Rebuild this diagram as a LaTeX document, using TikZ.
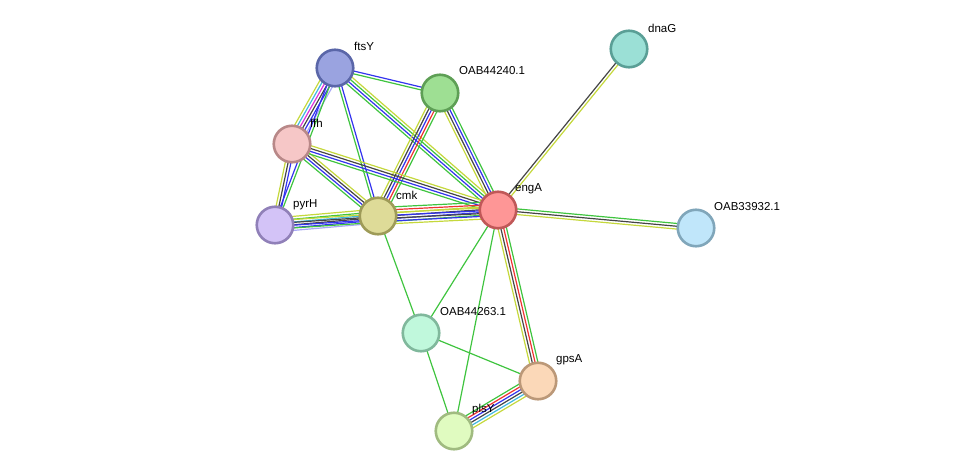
\documentclass[tikz,border=0pt]{standalone}
\usepackage{fontspec}
\setmainfont{Liberation Sans}
\usetikzlibrary{calc}
\pgfdeclarelayer{bg}
\pgfsetlayers{bg,main}
\definecolor{eg}{HTML}{3FC43F}
\definecolor{eb}{HTML}{3333EE}
\definecolor{ek}{HTML}{454545}
\definecolor{er}{HTML}{EE3333}
\definecolor{ey}{HTML}{C5D83C}
\definecolor{ec}{HTML}{40B8E0}
\definecolor{em}{HTML}{DD33DD}
\definecolor{el}{HTML}{A8A8F5}
\definecolor{fftsY}{HTML}{9AA3E0}\definecolor{dftsY}{HTML}{5A66A8}
\definecolor{foab40}{HTML}{9EDF93}\definecolor{doab40}{HTML}{5E9F55}
\definecolor{fffh}{HTML}{F6C7C7}\definecolor{dffh}{HTML}{B88888}
\definecolor{fpyrH}{HTML}{D3C3F7}\definecolor{dpyrH}{HTML}{9080B8}
\definecolor{fcmk}{HTML}{DEDB98}\definecolor{dcmk}{HTML}{9E9B58}
\definecolor{fengA}{HTML}{FE9696}\definecolor{dengA}{HTML}{C05858}
\definecolor{fdnaG}{HTML}{9BE0D6}\definecolor{ddnaG}{HTML}{5A9F96}
\definecolor{foab32}{HTML}{C0E6FA}\definecolor{doab32}{HTML}{80A6BA}
\definecolor{foab63}{HTML}{C0F8DC}\definecolor{doab63}{HTML}{80B89C}
\definecolor{fgpsA}{HTML}{FBD8B8}\definecolor{dgpsA}{HTML}{BB9878}
\definecolor{fplsY}{HTML}{E0FBC0}\definecolor{dplsY}{HTML}{A0BB80}
\newcommand\sedge[3]{%
  \foreach \c [count=\n] in {#3} {\xdef\ncol{\n}}%
  \foreach \c [count=\i] in {#3} {%
    \pgfmathsetmacro\off{(\i-(\ncol+1)/2)*2.8}%
    \draw[\c, edgeline] ($(#1.center)!\off pt!90:(#2.center)$) -- ($(#2.center)!\off pt!-90:(#1.center)$);
  }}
\tikzset{
  prot/.style={circle, minimum size=36.5pt, inner sep=0pt, line width=2.6pt, fill=f#1, draw=d#1},
  lb/.style={anchor=west, font=\fontsize{11.5}{13}\selectfont, inner sep=1pt, text=black},
  edgeline/.style={line width=1.2pt},
}
\begin{document}
\begin{tikzpicture}[x=1pt,y=-1pt]
\path[use as bounding box] (0,0) rectangle (975,476);
\node[prot=ftsY] (ftsY) at (335,68) {};
\node[prot=oab40] (oab40) at (440,93) {};
\node[prot=ffh] (ffh) at (292,144) {};
\node[prot=pyrH] (pyrH) at (275,225) {};
\node[prot=cmk] (cmk) at (378,216) {};
\node[prot=engA] (engA) at (498,210) {};
\node[prot=dnaG] (dnaG) at (629,49) {};
\node[prot=oab32] (oab32) at (696,228) {};
\node[prot=oab63] (oab63) at (421,333) {};
\node[prot=gpsA] (gpsA) at (538,381) {};
\node[prot=plsY] (plsY) at (454,431) {};
\begin{pgfonlayer}{bg}
\sedge{ftsY}{oab40}{eg,eb}
\sedge{ftsY}{ffh}{ey,ec,em,ek,eb,el}
\sedge{ftsY}{pyrH}{eb,eg}
\sedge{ftsY}{cmk}{eg,eb}
\sedge{ftsY}{engA}{eg,eb,eg,ey}
\sedge{oab40}{cmk}{ey,ek,eb,er,eg}
\sedge{oab40}{engA}{ey,ek,eb,eg}
\sedge{ffh}{cmk}{eg,eb,ek,ey}
\sedge{ffh}{engA}{eg,eb,ek,ey}
\sedge{ffh}{pyrH}{ey,ek,eb}
\sedge{pyrH}{cmk}{el,eb,ek,ec,eg,ey}
\sedge{pyrH}{engA}{eg,eb,ek,ey}
\sedge{cmk}{engA}{ey,eb,ek,eb,ey,er,eg}
\sedge{engA}{dnaG}{ey,ek}
\sedge{engA}{oab32}{ey,ek,eg}
\sedge{engA}{oab63}{eg}
\sedge{engA}{plsY}{eg}
\sedge{engA}{gpsA}{ey,ek,er,eg}
\sedge{cmk}{oab63}{eg}
\sedge{oab63}{gpsA}{eg}
\sedge{oab63}{plsY}{eg}
\sedge{gpsA}{plsY}{eg,er,eb,ek,ec,ey}
\end{pgfonlayer}
\node[lb] (l-ftsY) at ($(ftsY.center)+(18,-22)$) {ftsY};
\node[lb] (l-oab40) at ($(oab40.center)+(18,-22)$) {OAB44240.1};
\node[lb] (l-ffh) at ($(ffh.center)+(17,-21)$) {ffh};
\node[lb] (l-pyrH) at ($(pyrH.center)+(17,-20)$) {pyrH};
\node[lb] (l-cmk) at ($(cmk.center)+(17,-21)$) {cmk};
\node[lb] (l-engA) at ($(engA.center)+(16,-21)$) {engA};
\node[lb] (l-dnaG) at ($(dnaG.center)+(18,-21)$) {dnaG};
\node[lb] (l-oab32) at ($(oab32.center)+(17,-21)$) {OAB33932.1};
\node[lb] (l-oab63) at ($(oab63.center)+(18,-21)$) {OAB44263.1};
\node[lb] (l-gpsA) at ($(gpsA.center)+(17,-21)$) {gpsA};
\node[lb] (l-plsY) at ($(plsY.center)+(17,-21)$) {plsY};
\end{tikzpicture}
\end{document}
